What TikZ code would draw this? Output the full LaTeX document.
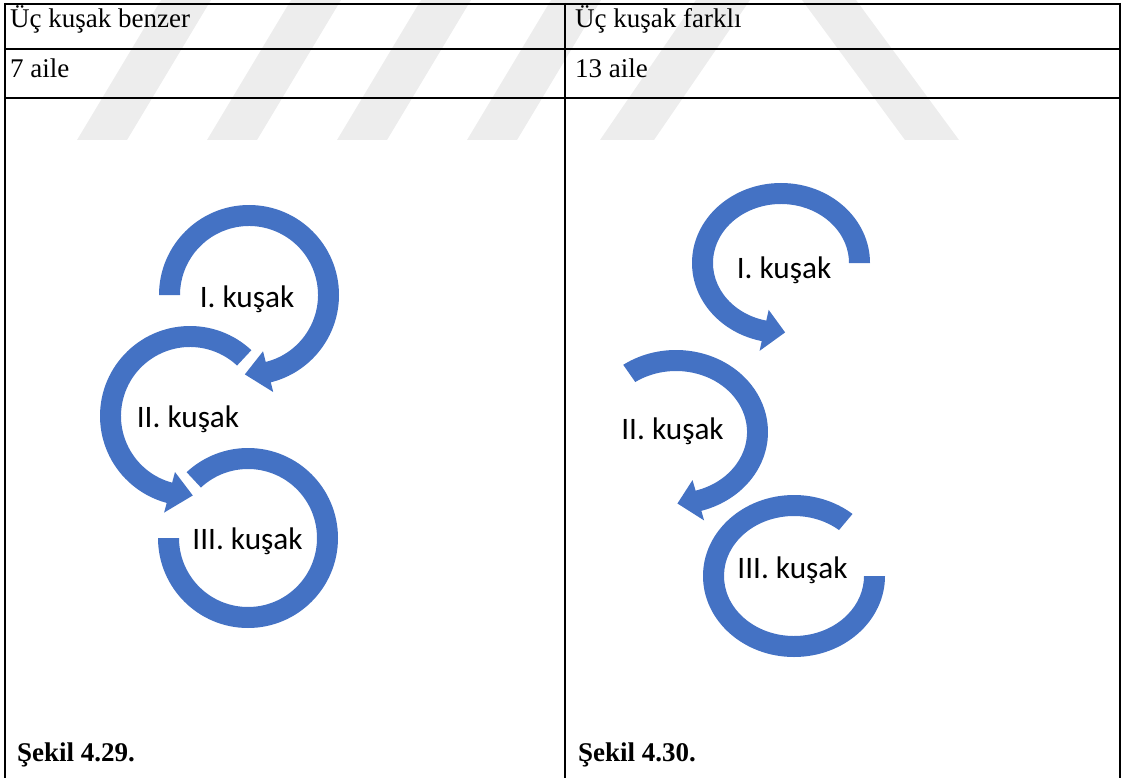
\documentclass[tikz,border=0pt]{standalone}
\usepackage{fontspec}
\setmainfont{Liberation Serif}
\newfontfamily\calfont{Carlito}
\definecolor{ringblue}{HTML}{4472C4}
\definecolor{wmgray}{HTML}{EDEDED}
\newcommand\bandarc[6]{%
  \pgfmathsetmacro\rxi{#3-21}\pgfmathsetmacro\ryi{#4-21}%
  \fill[ringblue] ({#1+#3*cos(#5)},{#2+#4*sin(#5)}) arc[start angle=#5,end angle=#6,x radius=#3,y radius=#4]
    -- ({#1+\rxi*cos(#6)},{#2+\ryi*sin(#6)}) arc[start angle=#6,end angle=#5,x radius=\rxi,y radius=\ryi] -- cycle;}
\newcommand\bandarrow[7]{%
  \pgfmathsetmacro\rxi{#3-21}\pgfmathsetmacro\ryi{#4-21}%
  \pgfmathsetmacro\rxm{#3-10.5}\pgfmathsetmacro\rym{#4-10.5}%
  \pgfmathsetmacro\rxo{#3+10}\pgfmathsetmacro\ryo{#4+10}%
  \pgfmathsetmacro\rxb{#3-32}\pgfmathsetmacro\ryb{#4-32}%
  \fill[ringblue] ({#1+#3*cos(#5)},{#2+#4*sin(#5)}) arc[start angle=#5,end angle=#6,x radius=#3,y radius=#4]
    -- ({#1+\rxo*cos(#6)},{#2+\ryo*sin(#6)}) -- ({#1+\rxm*cos(#7)},{#2+\rym*sin(#7)})
    -- ({#1+\rxb*cos(#6)},{#2+\ryb*sin(#6)}) -- ({#1+\rxi*cos(#6)},{#2+\ryi*sin(#6)})
    arc[start angle=#6,end angle=#5,x radius=\rxi,y radius=\ryi] -- cycle;}
\tikzset{
  cell/.style={anchor=base west,inner sep=0pt,font=\fontsize{27}{32}\selectfont},
  lbl/.style={anchor=base,inner sep=0pt,font=\calfont\fontsize{31.25}{36}\selectfont},
  rule/.style={line width=2pt,black},
}
\begin{document}
\begin{tikzpicture}[x=1pt,y=-1pt]
\useasboundingbox (0,0) rectangle (1121,778);
% watermark
\foreach \b in {77,207,337,467}
  \fill[wmgray] (\b,140) -- (\b+50,140) -- (\b+50+84,0) -- (\b+84,0) -- cycle;
\fill[wmgray] (600,140) -- (654,140) -- (750,0) -- (696,0) -- cycle;
\fill[wmgray] (905,140) -- (959,140) -- (856,0) -- (802,0) -- cycle;
% table
\draw[rule] (5,4) -- (1119.5,4);
\draw[rule] (5,49) -- (1119.5,49);
\draw[rule] (5,98.5) -- (1119.5,98.5);
\draw[rule] (5,3) -- (5,778);
\draw[rule] (565,3) -- (565,778);
\draw[rule] (1119.5,3) -- (1119.5,778);
\node[cell] (h1) at (10,28) {Üç kuşak benzer};
\node[cell] (h2) at (575,28) {Üç kuşak farklı};
\node[cell] (n1) at (10,78) {7 aile};
\node[cell] (n2) at (575,78) {13 aile};
\node[cell] (c1) at (17,761) {\bfseries Şekil 4.29.};
\node[cell] (c2) at (578,761) {\bfseries Şekil 4.30.};
% left diagram
\bandarrow{249}{295}{90}{90}{180}{436}{453}
\bandarrow{190}{416}{90}{90}{313}{105}{88}
\bandarc{248}{538}{90}{90}{180}{-133}
\node[lbl] (l1) at (247,307) {I. kuşak};
\node[lbl] (l2) at (188,427) {II. kuşak};
\node[lbl] (l3) at (247.5,549) {III. kuşak};
% right diagram
\bandarrow{781}{263}{89}{80}{0}{-257.5}{-273}
\bandarrow{676}{432}{92}{82}{235}{434}{449}
\bandarc{794}{576}{91}{81}{0}{310}
\node[lbl] (r1) at (784,278) {I. kuşak};
\node[lbl] (r2) at (672.5,439) {II. kuşak};
\node[lbl] (r3) at (792.5,578) {III. kuşak};
\end{tikzpicture}
\end{document}
